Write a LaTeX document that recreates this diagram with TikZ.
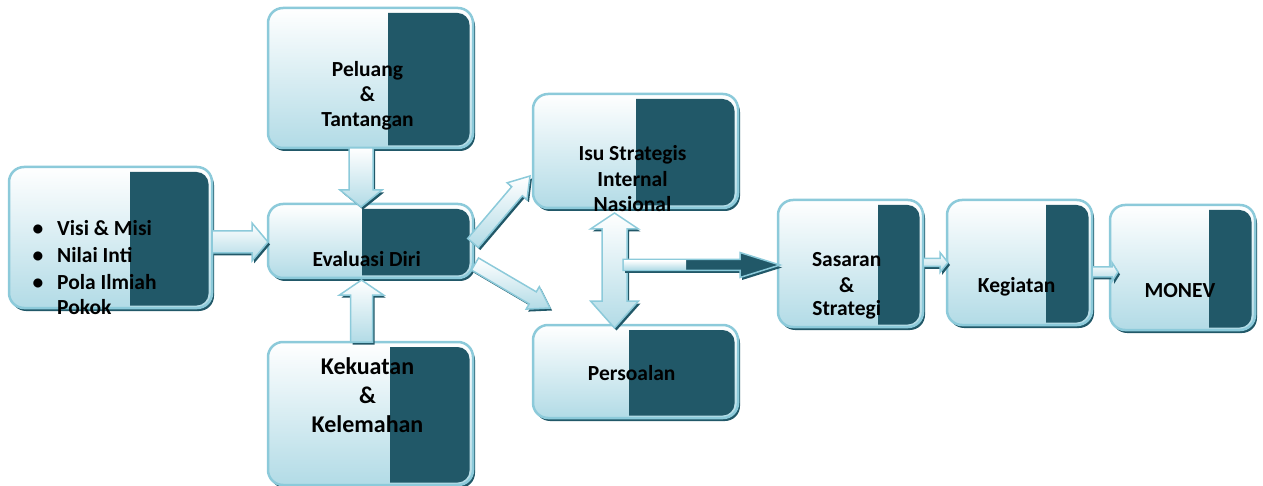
\documentclass[tikz,border=0pt]{standalone}
\usepackage{fontspec}
\setmainfont{Carlito}
\usetikzlibrary{calc,shadows}
\definecolor{dk}{RGB}{33,88,104}
\definecolor{bd}{RGB}{140,202,218}
\definecolor{lb}{RGB}{178,219,230}
\tikzset{
  box/.style={rectangle, rounded corners=15pt, draw=bd, line width=2.5pt,
    top color=white, bottom color=lb, inner sep=0pt, outer sep=0pt,
    drop shadow={fill=dk, opacity=1, shadow xshift=2pt, shadow yshift=-3pt}},
  txt/.style={font=\fontsize{21.5}{26}\selectfont\bfseries, inner sep=0pt, anchor=base, text=black},
  bigtxt/.style={txt, font=\fontsize{24}{28}\selectfont\bfseries},
  barrow/.style={draw=bd, line width=1.5pt, line join=miter, top color=white, bottom color=lb,
    drop shadow={fill=dk, opacity=1, shadow xshift=2pt, shadow yshift=-2.5pt}},
  barrowdark/.style={draw=bd, line width=1.5pt, line join=miter, fill=dk,
    drop shadow={fill=dk, opacity=1, shadow xshift=2pt, shadow yshift=-2.5pt}},
}
% tail, tip, half shaft, half head, head length, style
\newcommand\blockarrow[6]{%
  \path ($(#2)!#5!(#1)$) coordinate (bah);
  \path[#6] ($(#1)!#3!90:(#2)$) -- ($(bah)!#3!-90:(#1)$) -- ($(bah)!#4!-90:(#1)$) -- (#2)
    -- ($(bah)!#4!90:(#1)$) -- ($(bah)!#3!90:(#1)$) -- ($(#1)!#3!-90:(#2)$) -- cycle;
}
% tipA, tipB, half shaft, half head, head length A, head length B
\newcommand\doublearrow[6]{%
  \path ($(#1)!#5!(#2)$) coordinate (dah) ($(#2)!#6!(#1)$) coordinate (dbh);
  \path[barrow] (#1) -- ($(dah)!#4!90:(#2)$) -- ($(dah)!#3!90:(#2)$) -- ($(dbh)!#3!-90:(#1)$)
    -- ($(dbh)!#4!-90:(#1)$) -- (#2) -- ($(dbh)!#4!90:(#1)$) -- ($(dbh)!#3!90:(#1)$)
    -- ($(dah)!#3!-90:(#2)$) -- ($(dah)!#4!-90:(#2)$) -- cycle;
}
% node, left x of the dark panel
\newcommand\panel[2]{%
  \coordinate (#1pa) at ($(#1.north east)+(-3.5,5)$);
  \coordinate (#1pb) at ($(#1.south east)+(-3.5,-2.5)$);
  \coordinate (#1pc) at (#2,0);
  \fill[dk] let \p1=(#1pa), \p2=(#1pb), \p3=(#1pc) in
    (\x3,\y1) -- (\x1-12pt,\y1) arc[start angle=90,end angle=0,radius=12pt]
    -- (\x1,\y2+12pt) arc[start angle=0,end angle=-90,radius=12pt] -- (\x3,\y2) -- cycle;
}
\begin{document}
\begin{tikzpicture}[x=1pt,y=-1pt]
\useasboundingbox (0,0) rectangle (1263,486);
% boxes
\node[box, minimum width=203pt, minimum height=141pt] (visi) at (110.5,237.5) {};
\node[box, minimum width=205pt, minimum height=140pt] (pel) at (370.5,78) {};
\node[box, minimum width=205pt, minimum height=74pt] (eval) at (370.5,241) {};
\node[box, minimum width=205pt, minimum height=143pt] (kek) at (370.5,413.5) {};
\node[box, minimum width=205pt, minimum height=114pt] (isu) at (635.5,151) {};
\node[box, minimum width=205pt, minimum height=93pt] (pers) at (635.5,371.5) {};
\node[box, minimum width=145pt, minimum height=127pt] (sas) at (850.5,263.5) {};
\node[box, minimum width=145pt, minimum height=125pt] (keg) at (1019.5,262.5) {};
\node[box, minimum width=145pt, minimum height=125pt] (mon) at (1182.5,267.5) {};
% dark panels
\panel{visi}{130}
\panel{pel}{388}
\panel{eval}{362}
\panel{kek}{390}
\panel{isu}{636}
\panel{pers}{629}
\panel{sas}{878}
\panel{keg}{1046}
\panel{mon}{1209}
% arrow end points
\coordinate (a1t) at ($(visi.east)+(0,4.5)$);
\coordinate (a1h) at ($(eval.west)+(0,1)$);
\coordinate (a2t) at ($(pel.south)+(-9.5,0)$);
\coordinate (a2h) at ($(eval.north)+(-9.5,3)$);
\coordinate (a3t) at ($(kek.north)+(-9,0)$);
\coordinate (a3h) at ($(eval.south)+(-9,2)$);
\coordinate (a4t) at ($(eval.east)+(0,2)$);
\coordinate (a4h) at ($(isu.south west)+(-3,-32)$);
\coordinate (a5t) at ($(eval.east)+(2,23)$);
\coordinate (a5h) at ($(pers.north west)+(17,-17)$);
\coordinate (a6a) at ($(isu.south)+(-21,5)$);
\coordinate (a6b) at ($(pers.north)+(-21,3)$);
\coordinate (a7t) at ($(sas.west)+(-155,1.5)$);
\coordinate (a7h) at ($(sas.west)+(2,1.5)$);
\coordinate (a8t) at ($(sas.east)+(0,-1)$);
\coordinate (a8h) at ($(keg.west)+(1,0)$);
\coordinate (a9t) at ($(keg.east)+(0,9.5)$);
\coordinate (a9h) at ($(mon.west)+(8,4.5)$);
% arrows
\blockarrow{a1t}{a1h}{11pt}{19pt}{16pt}{barrow}
\blockarrow{a2t}{a2h}{12pt}{21pt}{17pt}{barrow}
\blockarrow{a3t}{a3h}{11pt}{22pt}{15pt}{barrow}
\blockarrow{a4t}{a4h}{7pt}{13pt}{20pt}{barrow}
\blockarrow{a5t}{a5h}{7pt}{13pt}{20pt}{barrow}
\doublearrow{a6a}{a6b}{12.5pt}{24pt}{16pt}{27pt}
\blockarrow{a7t}{a7h}{5.5pt}{12.5pt}{40pt}{barrowdark}
\fill[top color=white, bottom color=lb] ($(a7t)+(0.75,-4.75)$) rectangle ($(a7t)+(63,4.75)$);
\blockarrow{a8t}{a8h}{4pt}{10pt}{8pt}{barrow}
\blockarrow{a9t}{a9h}{5pt}{9.5pt}{6pt}{barrow}
% texts
\node[txt] (vb1) at (38,236) {\textbullet};
\node[txt] (vb2) at (38,263) {\textbullet};
\node[txt] (vb3) at (38,290) {\textbullet};
\node[txt, anchor=base west] (v1) at (57,236) {Visi \& Misi};
\node[txt, anchor=base west] (v2) at (57,263) {Nilai Inti};
\node[txt, anchor=base west] (v3) at (57,290) {Pola Ilmiah};
\node[txt, anchor=base west] (v4) at (57,314) {Pokok};
\node[txt] (p1) at (367.5,77) {Peluang};
\node[txt] (p2) at (367.5,102) {\&};
\node[txt] (p3) at (367.5,127) {Tantangan};
\node[txt] (e1) at (366.7,266) {Evaluasi Diri};
\node[bigtxt] (k1) at (367.5,374) {Kekuatan};
\node[bigtxt] (k2) at (367.5,403) {\&};
\node[bigtxt] (k3) at (367.5,432) {Kelemahan};
\node[txt] (i1) at (632.5,161) {Isu Strategis};
\node[txt] (i2) at (632.5,187) {Internal};
\node[txt] (i3) at (632.5,212) {Nasional};
\node[txt] (ps1) at (631.7,380) {Persoalan};
\node[txt] (s1) at (846.7,267) {Sasaran};
\node[txt] (s2) at (846.7,292) {\&};
\node[txt] (s3) at (846.7,316) {Strategi};
\node[txt] (kg1) at (1016.7,292) {Kegiatan};
\node[txt] (m1) at (1180,298) {MONEV};
\end{tikzpicture}
\end{document}
